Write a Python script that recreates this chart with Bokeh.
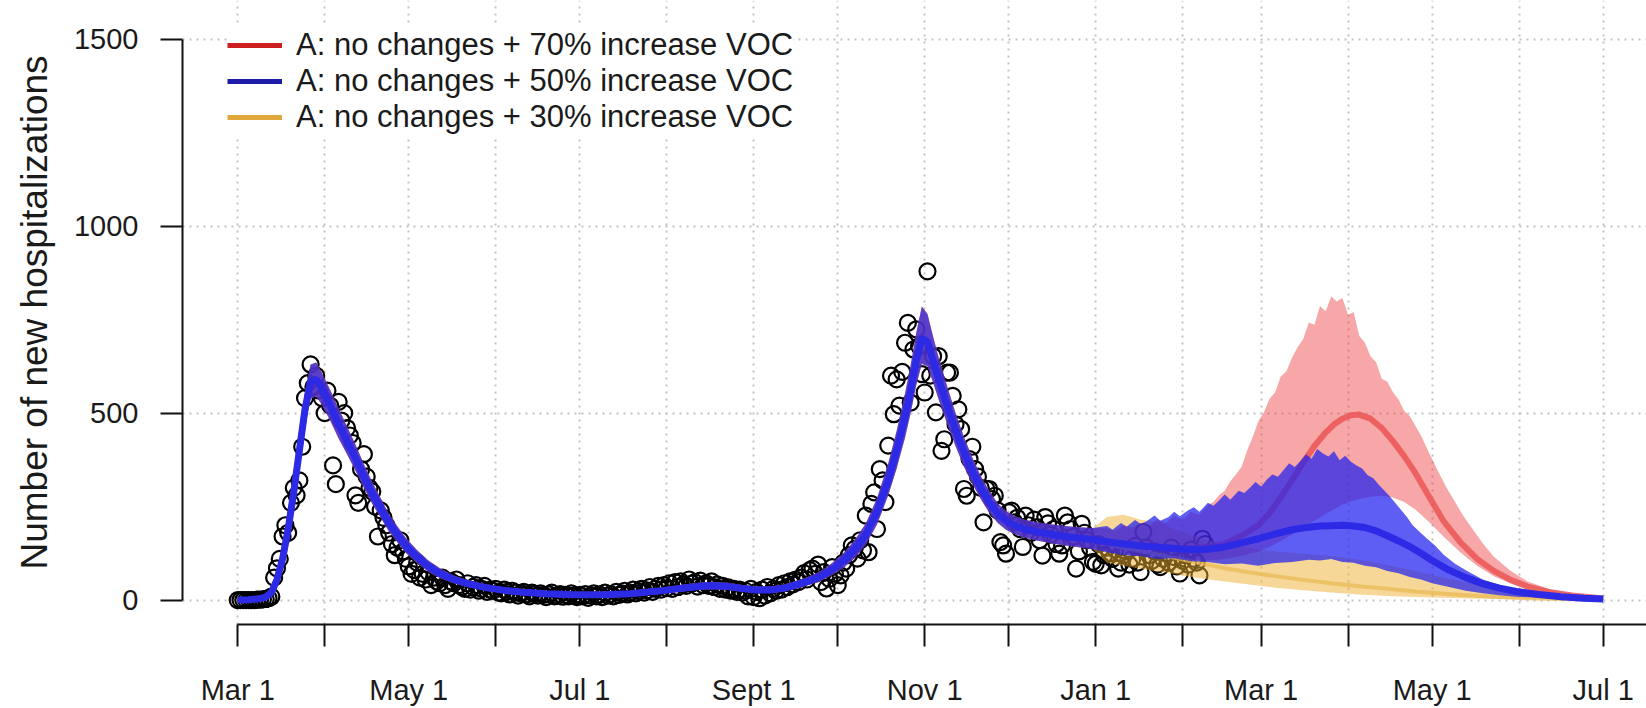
import numpy as np
from bokeh.plotting import figure
from bokeh.models import Range1d, FixedTicker, Legend, LegendItem
from bokeh.embed import file_html
from bokeh.resources import INLINE

# ---------------- data (days since 2020-03-01) ----------------
month_ticks = [0, 31, 61, 92, 122, 153, 184, 214, 245, 275, 306, 337, 365, 396, 426, 457, 487]
month_labels = ["Mar 1", "", "May 1", "", "Jul 1", "", "Sept 1", "", "Nov 1", "", "Jan 1", "",
                "Mar 1", "", "May 1", "", "Jul 1"]
y_ticks = [0, 500, 1000, 1500]

# observed daily new hospitalizations, day 0 .. 345
obs_vals = [
    0, 0, 0, 0, 0, 0, 0, 1, 1, 2, 3, 5, 9,
    60, 85, 110, 170, 200, 180, 260, 300, 280, 320, 410, 540, 580,
    630, 570, 600, 560, 540, 500, 560, 520, 360, 310, 530, 480, 500, 460,
    440, 420, 280, 260, 350, 390, 330, 300, 290, 250, 170, 240, 220, 200,
    180, 150, 120, 140, 160, 130, 110, 90, 70, 80, 100, 60, 70, 55, 75, 40, 60,
    50, 45, 60, 40, 30, 50, 45, 55, 40, 35, 30, 45, 28, 35, 40, 25, 30, 38, 22, 28,
    25, 30, 20, 18, 28, 22, 15, 25, 20, 12, 18, 22, 15, 10, 20, 16, 12, 18, 14, 8,
    15, 20, 10, 12, 16, 9, 14, 10, 18, 12,
    8, 14, 10, 16, 6, 12, 18, 10, 15, 8, 20, 12, 16, 10, 22, 14, 18, 25, 15, 20,
    28, 18, 24, 30, 20, 26, 35, 22, 30, 38,
    28, 40, 32, 45, 30, 48, 35, 50, 42, 38, 55, 44, 48, 36, 52, 40, 45, 38, 50, 35,
    42, 30, 38, 28, 34, 25, 30, 22, 28, 20,
    25, 10, 30, 8, 22, 5, 28, 12, 35, 18, 30, 25, 40, 28, 45, 35, 50, 42, 55, 48,
    60, 72, 55, 80, 84, 70, 95, 48, 75, 31, 57, 88, 70, 40, 66, 100, 84, 120, 146, 137,
    111, 160, 133, 226, 128, 257, 288, 190, 350, 320, 262, 413, 600, 497, 590, 520, 610, 688, 741, 528,
    670, 724, 679, 604, 555, 879, 600, 652, 502, 652, 399, 430, 608, 608, 546, 470, 510, 457, 297, 279,
    377, 410, 350, 330, 300, 208, 297, 297, 270, 279, 240, 155, 146, 124, 235, 239, 208, 220, 190, 142,
    226, 200, 180, 215, 195, 160, 119, 222, 205, 175, 190, 150, 124, 146, 226, 208, 190, 170, 84, 130,
    204, 180, 160, 140, 102, 97, 150, 93, 120, 140, 125, 110, 135, 84, 100, 120, 130, 95, 110, 145,
    100, 75, 182, 140, 120, 105, 130, 95, 88, 110, 125, 100, 140, 115, 90, 71, 105, 120, 95, 135,
    110, 100, 66, 164, 150,
]

# model fit (shared by all scenarios)
fit_days = [0, 4, 8, 10, 12, 14, 16, 18, 20, 22, 24, 26, 28, 30, 33, 36, 39, 42, 45, 48, 51, 54, 57, 60,
            64, 68, 72, 77, 82, 88, 95, 102, 110, 120, 130, 140, 150, 160, 165, 170, 175, 180, 185, 190,
            195, 200, 204, 208, 212, 216, 220, 224, 228, 232, 235, 238, 240, 242, 244, 246, 248, 250,
            253, 256, 259, 262, 265, 268, 271, 274, 277, 280, 285, 290, 295, 300, 305]
fit_med = [0, 1, 4, 8, 20, 55, 110, 190, 290, 400, 510, 585, 590, 565, 520, 470, 425, 380, 330, 285, 245,
           205, 175, 145, 115, 90, 72, 55, 44, 34, 26, 21, 17, 14, 14, 17, 24, 33, 37, 38, 36, 31, 27, 27,
           32, 42, 52, 64, 82, 105, 135, 175, 235, 320, 400, 490, 560, 640, 700, 690, 640, 590,
           520, 455, 395, 345, 300, 262, 232, 212, 200, 191, 182, 176, 170, 166, 162]
fit_lo = [0, 0, 1, 3, 10, 38, 86, 158, 252, 356, 462, 538, 545, 522, 480, 432, 390, 346, 300, 257, 220,
          183, 154, 126, 99, 76, 59, 45, 35, 26, 19, 14, 11, 8, 8, 10, 16, 24, 28, 29, 27, 23, 19, 19,
          23, 32, 41, 52, 67, 86, 112, 148, 202, 280, 352, 435, 500, 575, 632, 625, 582, 536,
          472, 412, 357, 311, 270, 234, 207, 188, 177, 168, 159, 152, 146, 141, 136]
fit_hi = [3, 4, 9, 16, 33, 72, 133, 222, 328, 444, 557, 630, 635, 608, 562, 512, 464, 416, 363, 315, 272,
          229, 197, 166, 133, 106, 86, 66, 54, 43, 34, 28, 24, 21, 21, 24, 32, 42, 47, 48, 46, 40, 36, 36,
          42, 53, 64, 78, 99, 125, 160, 205, 272, 365, 452, 552, 628, 715, 785, 765, 705, 648,
          572, 500, 436, 381, 332, 292, 259, 238, 225, 216, 208, 203, 198, 195, 193]

# scenario projections: lower edge / median on a coarse grid, jagged upper edge on a fine grid
red_days = [310, 316, 322, 328, 334, 340, 346, 352, 358, 364, 368, 372, 376, 380, 384, 388, 391, 394, 397,
            400, 404, 408, 412, 416, 420, 425, 430, 436, 442, 448, 454, 460, 468, 476, 487]
red_lo = [130, 125, 120, 117, 112, 108, 106, 110, 118, 130, 142, 158, 175, 192, 212, 230, 243, 255, 264,
          270, 276, 278, 274, 262, 242, 208, 170, 128, 92, 64, 44, 30, 17, 9, 3]
red_med = [156, 150, 146, 142, 140, 139, 141, 150, 172, 200, 232, 275, 320, 368, 412, 448, 470, 485, 494,
           496, 485, 460, 425, 385, 340, 275, 212, 155, 110, 78, 54, 36, 21, 12, 4]
red_hi_days = [310, 313, 316, 319, 322, 325, 328, 331, 334, 337, 340, 343, 346, 348, 350, 352, 354, 356,
               358, 360, 362, 364, 366, 368, 370, 372, 374, 376, 378, 380, 382, 384, 386, 388, 390, 392,
               394, 396, 398, 400, 402, 404, 406, 408, 410, 412, 414, 416, 418, 420, 422, 425, 428, 431,
               434, 437, 440, 444, 448, 454, 460, 468, 476, 487]
red_hi = [192, 184, 200, 194, 207, 198, 217, 206, 226, 214, 236, 228, 254, 262, 280, 292, 318, 336,
          356, 400, 436, 478, 502, 538, 556, 598, 612, 648, 676, 698, 742, 736, 786, 772, 812, 798,
          808, 762, 770, 706, 688, 652, 636, 592, 584, 556, 536, 506, 492, 466, 440, 392, 346, 302,
          264, 226, 194, 152, 116, 78, 50, 29, 16, 6]

blue_days = [310, 316, 322, 328, 334, 340, 346, 352, 358, 364, 370, 376, 382, 386, 390, 394, 398, 402,
             406, 410, 414, 418, 422, 426, 432, 438, 444, 450, 456, 464, 472, 480, 487]
blue_lo = [128, 120, 118, 110, 112, 104, 102, 96, 98, 92, 99, 102, 108, 106, 110, 102, 100, 92, 88, 78,
           72, 62, 55, 45, 35, 25, 18, 13, 9, 6, 4, 2, 1]
blue_med = [156, 150, 145, 141, 138, 135, 136, 142, 153, 164, 177, 188, 195, 198, 199, 200, 198, 194, 185,
            172, 158, 143, 125, 106, 80, 60, 44, 32, 23, 15, 9, 5, 3]
blue_hi_days = [310, 312, 315, 317, 320, 322, 324, 327, 329, 332, 334, 336, 339, 341, 343, 346, 348, 350,
                352, 354, 357, 359, 361, 363, 365, 367, 369, 371, 373, 375, 377, 379, 381, 383, 385, 387,
                389, 391, 393, 395, 397, 399, 401, 403, 405, 407, 409, 411, 413, 415, 417, 419, 421, 424,
                427, 430, 434, 438, 444, 450, 456, 464, 472, 480, 487]
blue_hi = [198, 188, 206, 196, 214, 204, 210, 226, 212, 222, 236, 224, 240, 248, 236, 260, 252, 266,
           282, 268, 292, 286, 300, 316, 304, 322, 336, 330, 348, 366, 356, 372, 390, 378, 404, 392,
           384, 398, 374, 386, 370, 360, 352, 334, 326, 308, 292, 276, 258, 240, 222, 200, 186, 165,
           146, 122, 98, 80, 55, 40, 28, 18, 11, 7, 4]

orange_days = [310, 316, 322, 328, 334, 340, 350, 360, 370, 380, 390, 400, 410, 420, 430, 440, 450, 460,
               470, 480, 487]
orange_lo = [100, 92, 84, 77, 70, 62, 52, 42, 33, 26, 20, 15, 11, 8, 6, 4, 3, 2, 1, 0, 0]
orange_med = [150, 140, 131, 122, 113, 104, 88, 75, 64, 54, 45, 37, 30, 23, 17, 12, 8, 5, 3, 2, 1]
orange_hi = [222, 228, 215, 210, 190, 175, 152, 140, 130, 124, 118, 108, 94, 78, 60, 44, 31, 20, 12, 7, 4]

labels = ["A: no changes + 70% increase VOC",
          "A: no changes + 50% increase VOC",
          "A: no changes + 30% increase VOC"]

# ---------------- figure ----------------
FONT = "Liberation Sans"
TXT = "#1a1a1a"

p = figure(width=1646, height=708, output_backend="svg", toolbar_location=None,
           x_range=Range1d(-19.686, 502.43), y_range=Range1d(-65.3, 1603.1),
           min_border_left=182, min_border_right=0, min_border_top=0, min_border_bottom=82)
p.outline_line_color = None
p.background_fill_color = "white"
p.border_fill_color = "white"

for ax in (p.xaxis[0], p.yaxis[0]):
    ax.axis_line_color = "#111111"
    ax.axis_line_width = 2
    ax.major_tick_line_color = "#111111"
    ax.major_tick_line_width = 2
    ax.major_tick_out = 22
    ax.major_tick_in = 0
    ax.minor_tick_line_color = None
    ax.major_label_text_font = FONT
    ax.major_label_text_font_size = "29px"
    ax.major_label_text_color = TXT

p.xaxis.ticker = FixedTicker(ticks=month_ticks)
p.xaxis.major_label_overrides = {t: l for t, l in zip(month_ticks, month_labels)}
p.xaxis.bounds = (0, 502.43)
p.xaxis.major_label_standoff = 27

p.yaxis.ticker = FixedTicker(ticks=y_ticks)
p.yaxis.major_label_overrides = {t: str(t) for t in y_ticks}
p.yaxis.bounds = (0, 1500)
p.yaxis.major_label_standoff = 22
p.yaxis.major_label_orientation = "horizontal"
p.yaxis.axis_label = "Number of new hospitalizations"
p.yaxis.axis_label_text_font = FONT
p.yaxis.axis_label_text_font_size = "37px"
p.yaxis.axis_label_text_font_style = "normal"
p.yaxis.axis_label_text_color = TXT
p.yaxis.axis_label_standoff = 16

for g in (p.xgrid[0], p.ygrid[0]):
    g.grid_line_color = "#c2c2c2"
    g.grid_line_width = 2
    g.grid_line_dash = "2 5"
p.xgrid.ticker = FixedTicker(ticks=month_ticks)
p.ygrid.ticker = FixedTicker(ticks=y_ticks)

# observed points
obs_days = list(range(len(obs_vals)))
p.scatter(obs_days, obs_vals, marker="circle", size=16, fill_color=None,
          line_color="black", line_width=2.2)


def band(hi_days, hi, lo_days, lo):
    xs = list(fit_days) + list(hi_days) + list(reversed(list(fit_days) + list(lo_days)))
    ys = list(fit_hi) + list(hi) + list(reversed(list(fit_lo) + list(lo)))
    return xs, ys


ox, oy = band(orange_days, orange_hi, orange_days, orange_lo)
rxb, ryb = band(red_hi_days, red_hi, red_days, red_lo)
bxb, byb = band(blue_hi_days, blue_hi, blue_days, blue_lo)

orange_x = fit_days + orange_days
orange_y = fit_med + orange_med
red_x = fit_days + red_days
red_y = fit_med + red_med
blue_x = fit_days + blue_days
blue_y = fit_med + blue_med

p.patch(ox, oy, fill_color="#f0b030", fill_alpha=0.5, line_color=None)
p.patch(rxb, ryb, fill_color="#ee3b3b", fill_alpha=0.45, line_color=None)
p.line(orange_x, orange_y, line_color="#e8b850", line_width=4, line_alpha=0.7)
p.line(red_x, red_y, line_color="#ea5050", line_width=6, line_alpha=0.8)
p.patch(bxb, byb, fill_color="#2020f0", fill_alpha=0.72, line_color=None)
p.line(blue_x, blue_y, line_color="#2c2ae4", line_width=7)

# legend renderers (same data, legend colours, not drawn)
leg_cols = ["#cc2020", "#1c1ca6", "#e0a83c"]
leg_x = [red_x, blue_x, orange_x]
leg_y = [red_y, blue_y, orange_y]
items = []
for lab, col, xs, ys in zip(labels, leg_cols, leg_x, leg_y):
    r = p.line(xs, ys, line_color=col, line_width=5)
    r.visible = False
    items.append(LegendItem(label=lab, renderers=[r]))

legend = Legend(items=items, location=(45, 489), orientation="vertical",
                label_text_font=FONT, label_text_font_size="31px", label_text_color=TXT,
                glyph_width=55, glyph_height=30, label_height=30, spacing=-2, padding=5,
                margin=0, label_standoff=14, background_fill_color="white",
                background_fill_alpha=1.0, border_line_color=None)
p.add_layout(legend)

open("out.html", "w").write(file_html(p, INLINE))
